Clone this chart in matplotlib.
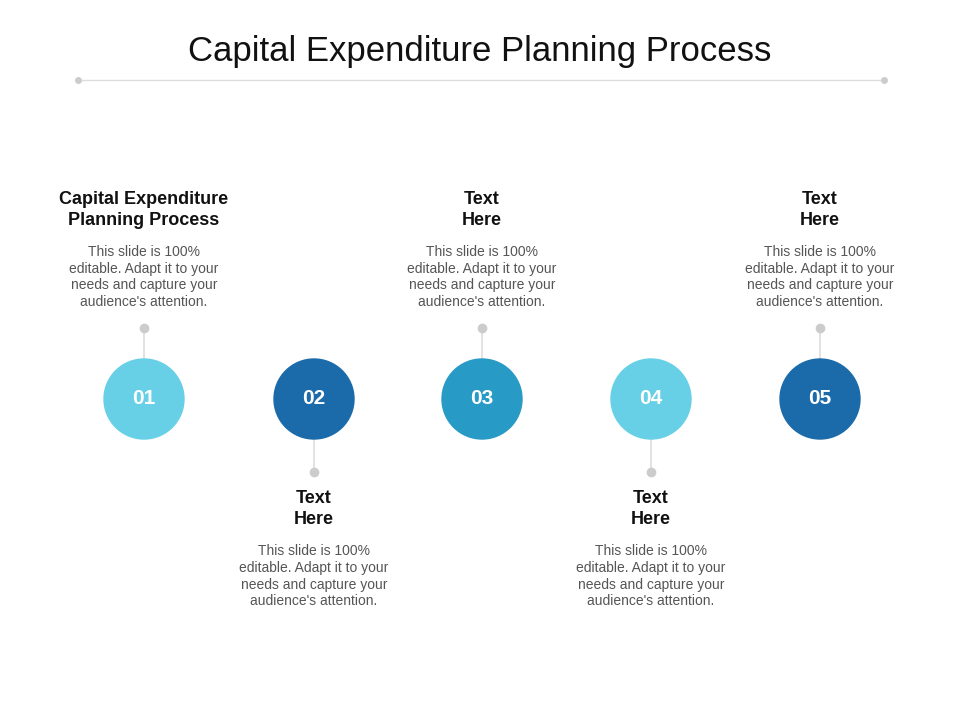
import matplotlib.pyplot as plt
from matplotlib.patches import Circle

plt.rcParams['font.family'] = 'Liberation Sans'

# %% data
steps = ['01', '02', '03', '04', '05']
headings = ['Capital Expenditure\nPlanning Process', 'Text\nHere', 'Text\nHere', 'Text\nHere', 'Text\nHere']
body = "This slide is 100%\neditable. Adapt it to your\nneeds and capture your\naudience's attention."
colors = ['#67D0E6', '#1B6BAA', '#279AC6', '#67D0E6', '#1B6BAA']
above = [True, False, True, False, True]

fig = plt.figure(figsize=(9.6, 7.2), dpi=100)
ax = fig.add_axes([0, 0, 1, 1])
ax.set_xlim(0, 960)
ax.set_ylim(720, 0)
ax.axis('off')

ax.text(480, 52, 'Capital Expenditure Planning Process', ha='center', va='center',
        fontsize=25, color='#111111')
ax.plot([78, 884], [80, 80], color='#DDDDDD', lw=1)
ax.plot([78, 884], [80, 80], 'o', color='#CCCCCC', ms=4)

xs = [144, 314, 482, 651, 820]
cy = 399
r = 40
for x, s, h, c, up in zip(xs, steps, headings, colors, above):
    ax.add_patch(Circle((x, cy), r, color=c, zorder=3))
    ax.text(x, cy, s, ha='center', va='center', color='white', fontsize=15,
            fontweight='bold', zorder=4)
    if up:
        ax.plot([x, x], [328, cy - r], color='#DDDDDD', lw=1.2)
        ax.plot(x, 328, 'o', color='#CCCCCC', ms=6)
        hy = 210
    else:
        ax.plot([x, x], [cy + r, 472], color='#DDDDDD', lw=1.2)
        ax.plot(x, 472, 'o', color='#CCCCCC', ms=6)
        hy = 509
    ax.text(x, hy, h, ha='center', va='center', fontsize=13, fontweight='bold',
            color='#111111', linespacing=1.3)
    ax.text(x, hy + 35, body, ha='center', va='top', fontsize=10, color='#555555',
            linespacing=1.25)

plt.savefig('out.png', dpi=100)
